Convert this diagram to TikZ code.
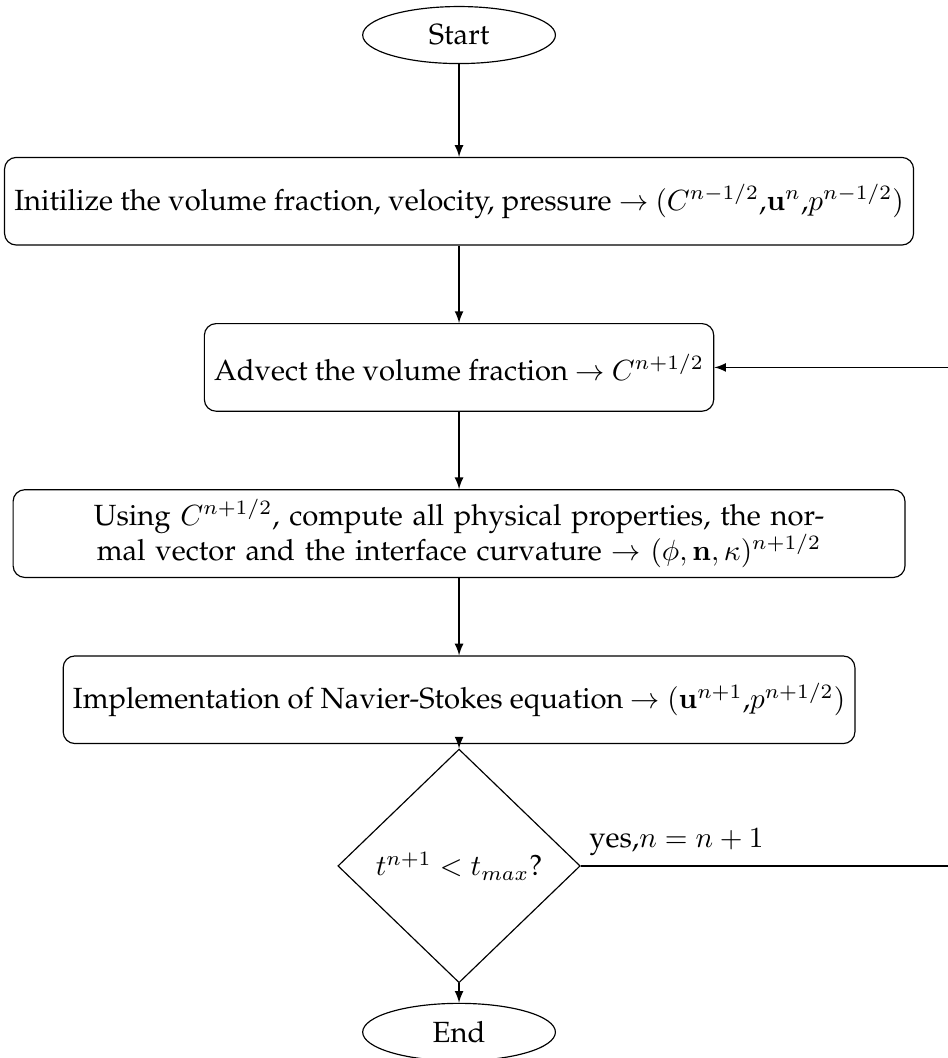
\documentclass[tikz,border=0pt]{standalone}
\usepackage[T1]{fontenc}
\usepackage{palatino}
\usetikzlibrary{shapes.geometric}

\tikzstyle{terminal} = [ellipse, draw, minimum width=66pt, minimum height=19pt]
\tikzstyle{block} = [rectangle, draw, rounded corners, minimum height=3em]
\tikzstyle{decision} = [diamond, draw, aspect=1, minimum width=83pt]
\tikzstyle{line} = [draw, -latex]

\begin{document}
\begin{tikzpicture}[node distance = 2cm, auto]
\useasboundingbox (-157.2pt,12pt) rectangle (167.1pt,-350.3pt);
\node [terminal] (Start) {Start};
\node [block, below of=Start] (Init) {Initilize the volume fraction, velocity, pressure $\rightarrow$ $(C^{n-1/2}$,$\mathbf{u}^{n}$,$p^{n-1/2})$};
\node [block, below of=Init] (Advect) {Advect the volume fraction $\rightarrow$ $C^{n+1/2}$};
\node [block, below of=Advect, text width=10.5cm, text centered] (Props) {Using $C^{n+1/2}$, compute all physical properties, the normal vector and the interface curvature $\rightarrow$ $(\phi,\mathbf{n},\kappa)^{n+1/2}$};
\node [block, below of=Props] (NS) {Implementation of Navier-Stokes equation $\rightarrow$ $(\mathbf{u}^{n+1}$,$p^{n+1/2})$};
\node [decision, below of=NS] (Check) {$t^{n+1} < t_{max}$?};
\node [terminal, below of=Check] (End) {End};

\path [line] (Start) -- (Init);
\path [line] (Init) -- (Advect);
\path [line] (Advect) -- (Props);
\path [line] (Props) -- (NS);
\path [line] (NS) -- (Check);
\path [line] (Check) -- (End);
\path [line] (Check.east) -- node [near start, above] {yes,$n=n+1$} ++(131pt,0pt) |- (Advect.east);
\end{tikzpicture}
\end{document}
